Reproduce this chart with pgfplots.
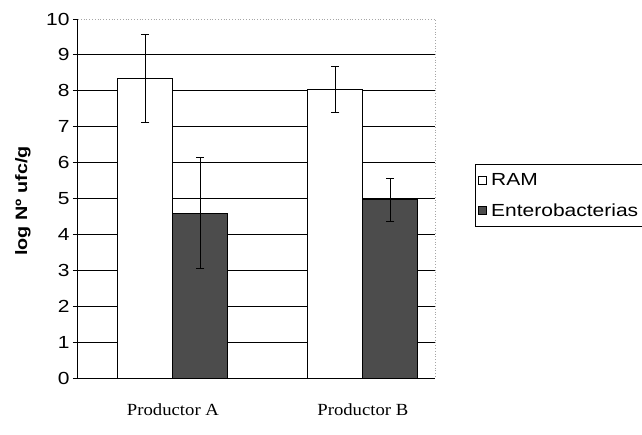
\documentclass[border=0pt]{standalone}
\usepackage{pgfplots}
\pgfplotsset{compat=1.18}
\usepackage{fontspec}
\setmainfont{Liberation Sans}
\newfontfamily\sansfont{Liberation Sans}[FakeStretch=1.2]
\newfontfamily\seriffont{Liberation Serif}[FakeStretch=1.1]
\begin{document}
\begin{tikzpicture}
\useasboundingbox (-78pt,-56pt) rectangle (564pt,378pt);
\begin{axis}[name=ax, at={(0,0)}, anchor=south west,
 scale only axis, width=357pt, height=359pt,
 ybar=0pt, bar width=55pt,
 xmin=-0.5, xmax=1.38, ymin=0, ymax=10,
 xtick={0,1}, xticklabels={Productor A, Productor B},
 xticklabel style={font=\seriffont\fontsize{17}{20}\selectfont, yshift=-17pt},
 x tick style={draw=none},
 ytick={0,...,9}, extra y ticks={10}, extra y tick style={grid=none},
 ymajorgrids, major grid style={black, line width=0.9pt},
 yticklabel style={font=\sansfont\fontsize{17.5}{19}\selectfont},
 /pgf/number format/assume math mode=true,
 y tick style={black, line width=0.9pt}, tick align=outside, major tick length=5pt,
 axis x line*=bottom, axis y line*=left,
 axis line style={black, line width=1pt, -},
 ylabel={log Nº ufc/g},
 ylabel style={font=\sansfont\bfseries\fontsize{16.5}{18}\selectfont, at={(axis description cs:-0.154,0.493)}, anchor=center},
 legend style={at={(1.112,0.595)}, anchor=north west, draw=black, line width=0.8pt,
   font=\sansfont\fontsize{17.5}{19}\selectfont, row sep=12pt, inner ysep=7pt, inner xsep=3pt},
 legend cell align=left,
 legend image code/.code={\draw[#1, line width=0.8pt] (0pt,-4pt) rectangle (8pt,4pt);},
]
\addplot[fill=white, draw=black, line width=0.9pt,
  error bars/.cd, y dir=both, y explicit,
  error bar style={black, line width=0.9pt},
  error mark options={black, mark size=4pt, line width=0.9pt, rotate=90}]
  coordinates {(0,8.34) +- (0,1.23) (1,8.05) +- (0,0.64)};
\addplot[fill=black!70, draw=black, line width=0.9pt,
  error bars/.cd, y dir=both, y explicit,
  error bar style={black, line width=0.9pt},
  error mark options={black, mark size=4pt, line width=0.9pt, rotate=90}]
  coordinates {(0,4.59) +- (0,1.54) (1,4.96) +- (0,0.60)};
\legend{\hspace{2pt}RAM, \hspace{2pt}Enterobacterias}
\end{axis}
\draw[gray!70, dotted, line width=0.8pt] (ax.north west) -- (ax.north east) -- (ax.south east);
\end{tikzpicture}
\end{document}
